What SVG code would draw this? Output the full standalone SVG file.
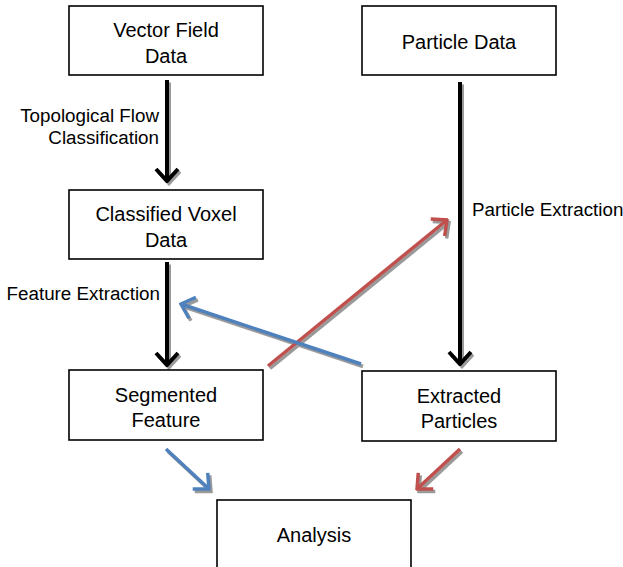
<svg xmlns="http://www.w3.org/2000/svg" width="623" height="567" viewBox="0 0 623 567">
<style>
.box{fill:#fff;stroke:#000;stroke-width:1.6}
.t{font-family:"Liberation Sans",Arial,sans-serif;font-size:20px;fill:#000;text-anchor:middle}
.lbl{font-family:"Liberation Sans",Arial,sans-serif;font-size:18.8px;fill:#000}
.sh{stroke:#9a9a9a;fill:none}
.k{stroke:#000;stroke-width:4;fill:none}
.r{stroke:#C0504D;stroke-width:3.5;fill:none}
.b{stroke:#4F81BD;stroke-width:3.5;fill:none}
</style>
<defs>
<marker id="hk" viewBox="-14 -13 16 26" markerWidth="16" markerHeight="26" refX="0" refY="0" orient="auto" markerUnits="userSpaceOnUse"><path d="M-12,-11 L0,0 L-12,11" fill="none" stroke="#000" stroke-width="4"/></marker>
<marker id="hr" viewBox="-14 -13 16 26" markerWidth="16" markerHeight="26" refX="0" refY="0" orient="auto" markerUnits="userSpaceOnUse"><path d="M-12,-11 L0,0 L-12,11" fill="none" stroke="#C0504D" stroke-width="3.5"/></marker>
<marker id="hb" viewBox="-14 -13 16 26" markerWidth="16" markerHeight="26" refX="0" refY="0" orient="auto" markerUnits="userSpaceOnUse"><path d="M-12,-11 L0,0 L-12,11" fill="none" stroke="#4F81BD" stroke-width="3.5"/></marker>
<marker id="hs" viewBox="-14 -13 16 26" markerWidth="16" markerHeight="26" refX="0" refY="0" orient="auto" markerUnits="userSpaceOnUse"><path d="M-12,-11 L0,0 L-12,11" fill="none" stroke="#9a9a9a" stroke-width="3.5"/></marker>
</defs>
<g id="connectors">
<g id="shadows" transform="translate(2,2.5)">
<path class="sh" stroke-width="4" d="M167,80 L167,181" marker-end="url(#hs)"/>
<path class="sh" stroke-width="4" d="M167,262 L167,365" marker-end="url(#hs)"/>
<path class="sh" stroke-width="4" d="M460,82 L460,364" marker-end="url(#hs)"/>
<path class="sh" stroke-width="3.5" d="M268,366 L447,220" marker-end="url(#hs)"/>
<path class="sh" stroke-width="3.5" d="M361,364 L181,304" marker-end="url(#hs)"/>
<path class="sh" stroke-width="3.5" d="M166,449 L209,489" marker-end="url(#hs)"/>
<path class="sh" stroke-width="3.5" d="M460,449 L417,489" marker-end="url(#hs)"/>
</g>
<path class="k" d="M167,80 L167,181" marker-end="url(#hk)"/>
<path class="k" d="M167,262 L167,365" marker-end="url(#hk)"/>
<path class="k" d="M460,82 L460,364" marker-end="url(#hk)"/>
<path class="r" d="M268,366 L447,220" marker-end="url(#hr)"/>
<path class="b" d="M361,364 L181,304" marker-end="url(#hb)"/>
<path class="b" d="M166,449 L209,489" marker-end="url(#hb)"/>
<path class="r" d="M460,449 L417,489" marker-end="url(#hr)"/>
<text class="lbl" x="159" y="122" text-anchor="end">Topological Flow</text>
<text class="lbl" x="159" y="144" text-anchor="end">Classification</text>
<text class="lbl" x="160" y="300" text-anchor="end">Feature Extraction</text>
<text class="lbl" x="472" y="216">Particle Extraction</text>
</g>
<g id="vector-field-data">
<rect class="box" x="69" y="6" width="194" height="69"/>
<text class="t" x="166" y="37">Vector Field</text>
<text class="t" x="166" y="63">Data</text>
</g>
<g id="particle-data">
<rect class="box" x="362" y="6" width="194" height="69"/>
<text class="t" x="459" y="49">Particle Data</text>
</g>
<g id="classified-voxel-data">
<rect class="box" x="69" y="190" width="194" height="69"/>
<text class="t" x="166" y="221">Classified Voxel</text>
<text class="t" x="166" y="247">Data</text>
</g>
<g id="segmented-feature">
<rect class="box" x="69" y="370" width="194" height="70"/>
<text class="t" x="166" y="402">Segmented</text>
<text class="t" x="166" y="427">Feature</text>
</g>
<g id="extracted-particles">
<rect class="box" x="362" y="371" width="194" height="70"/>
<text class="t" x="459" y="403">Extracted</text>
<text class="t" x="459" y="428">Particles</text>
</g>
<g id="analysis">
<rect class="box" x="217" y="500" width="194" height="80"/>
<text class="t" x="314" y="542">Analysis</text>
</g>
</svg>
